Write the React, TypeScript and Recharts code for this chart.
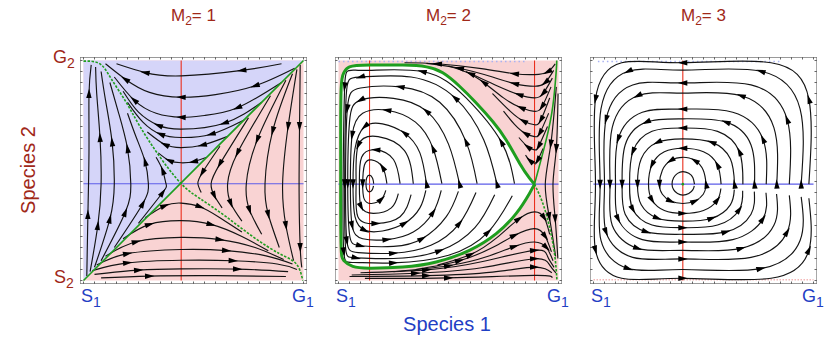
import type { ReactNode } from "react"
import { ComposedChart, Area, Line, XAxis, YAxis, ReferenceArea, ReferenceLine, ReferenceDot } from "recharts"

type Pt = [number, number]

// layout of the three frames
const PANEL_LEFT = [80, 335, 590]
const PANEL_TOP = 57
const SIZE = 227
const INSET = 3.5 / 220
const DOMAIN: [number, number] = [-INSET, 1 + INSET]
const TICKS = [0, 0.05, 0.1, 0.15, 0.2, 0.25, 0.3, 0.35, 0.4, 0.45, 0.5, 0.55, 0.6, 0.65, 0.7, 0.75, 0.8, 0.85, 0.9, 0.95, 1]
const TICK_LEN = 2.5 / 220
const M2_VALUES = [1, 2, 3]

const DARK_RED = "#A02818"
const LABEL_BLUE = "#1F40C4"
const PINK = "#F9D3D3"
const LAVENDER = "#D5D5F9"
const RED = "#EA2E1C"
const NBLUE = "#5C5CE8"
const GREEN = "#1F9E1F"
const FRAME = "#7a7a7a"
const INK = "#141414"

// ---------- M2 = 1 ----------
const P1_NULL_X = 0.444
const P1_NULL_Y = 0.44
const P1_BLUE_X = [0, 1]
const P1_BLUE_LO = [0, 1]
const P1_BLUE_HI = [1, 1]
const P1_DIAG: Pt[] = [[0, 0], [1, 1]]
const P1_SEP: Pt[] = [
  [0.0, 0.997], [0.073, 0.986], [0.126, 0.917], [0.194, 0.81], [0.255, 0.703], [0.345, 0.565],
  [0.444, 0.44], [0.53, 0.372], [0.648, 0.29], [0.77, 0.199], [0.891, 0.122], [0.967, 0.076], [0.997, 0.0],
]
const P1_TOP: Pt[][] = [
  [[0.9, 0.985], [0.72, 0.955], [0.444, 0.93], [0.28, 0.945], [0.15, 0.985]],
  [[0.96, 0.965], [0.78, 0.885], [0.6, 0.845], [0.444, 0.833], [0.3, 0.855], [0.19, 0.915], [0.1, 0.985]],
  [[0.9, 0.9], [0.7, 0.785], [0.55, 0.75], [0.444, 0.742], [0.33, 0.76], [0.23, 0.82], [0.14, 0.925]],
  [[0.81, 0.81], [0.64, 0.715], [0.444, 0.688], [0.34, 0.705], [0.25, 0.765], [0.18, 0.86]],
  [[0.73, 0.73], [0.58, 0.665], [0.444, 0.65], [0.35, 0.665], [0.27, 0.72], [0.2, 0.81]],
  [[0.655, 0.655], [0.54, 0.615], [0.444, 0.604], [0.37, 0.618], [0.29, 0.675]],
  [[0.56, 0.56], [0.5, 0.54], [0.444, 0.535], [0.39, 0.545], [0.34, 0.58]],
]
const P1_LEFT: Pt[][] = [
  [[0.015, 0.02], [0.02, 0.3], [0.025, 0.6], [0.025, 0.85], [0.035, 0.98]],
  [[0.03, 0.04], [0.065, 0.25], [0.08, 0.44], [0.075, 0.65], [0.06, 0.85], [0.055, 0.97]],
  [[0.05, 0.06], [0.12, 0.28], [0.14, 0.44], [0.13, 0.63], [0.1, 0.82], [0.08, 0.95]],
  [[0.08, 0.09], [0.19, 0.31], [0.215, 0.44], [0.2, 0.6], [0.16, 0.76], [0.12, 0.9]],
  [[0.14, 0.15], [0.27, 0.35], [0.295, 0.44], [0.28, 0.54], [0.24, 0.65], [0.2, 0.76]],
  [[0.25, 0.26], [0.36, 0.4], [0.375, 0.44], [0.36, 0.5], [0.33, 0.56]],
]
const P1_RIGHT: Pt[][] = [
  [[0.985, 0.98], [0.982, 0.7], [0.98, 0.4], [0.985, 0.15], [0.992, 0.06]],
  [[0.97, 0.96], [0.93, 0.7], [0.905, 0.44], [0.92, 0.25], [0.955, 0.09]],
  [[0.95, 0.94], [0.86, 0.68], [0.825, 0.44], [0.84, 0.3], [0.89, 0.15]],
  [[0.92, 0.91], [0.79, 0.64], [0.74, 0.44], [0.755, 0.32], [0.81, 0.21]],
  [[0.85, 0.84], [0.7, 0.58], [0.655, 0.44], [0.67, 0.35], [0.72, 0.27]],
  [[0.75, 0.74], [0.62, 0.53], [0.58, 0.44], [0.595, 0.385], [0.63, 0.33]],
  [[0.62, 0.61], [0.54, 0.49], [0.52, 0.44], [0.535, 0.4]],
]
const P1_BOTTOM: Pt[][] = [
  [[0.28, 0.285], [0.37, 0.34], [0.444, 0.352], [0.53, 0.335], [0.62, 0.285], [0.72, 0.22]],
  [[0.18, 0.19], [0.3, 0.255], [0.444, 0.272], [0.58, 0.255], [0.72, 0.2], [0.84, 0.135]],
  [[0.1, 0.11], [0.24, 0.176], [0.444, 0.196], [0.62, 0.186], [0.78, 0.15], [0.91, 0.095]],
  [[0.06, 0.07], [0.2, 0.122], [0.444, 0.141], [0.65, 0.136], [0.83, 0.112], [0.95, 0.075]],
  [[0.04, 0.045], [0.2, 0.08], [0.444, 0.092], [0.68, 0.09], [0.88, 0.075], [0.97, 0.05]],
  [[0.05, 0.028], [0.25, 0.047], [0.444, 0.053], [0.7, 0.052], [0.93, 0.04]],
  [[0.08, 0.012], [0.3, 0.02], [0.6, 0.022], [0.92, 0.018]],
]

// ---------- M2 = 2 ----------
const P2_NULL_X = [0.141, 0.891]
const P2_NULL_Y = 0.438
const P2_LOOP_X = [0.012, 0.024, 0.05, 0.1, 0.141, 0.2, 0.292, 0.4, 0.474, 0.55, 0.626, 0.701, 0.762, 0.823, 0.868, 0.891]
const P2_LOOP_HI = [0.87, 0.944, 0.971, 0.978, 0.979, 0.98, 0.979, 0.971, 0.944, 0.883, 0.807, 0.723, 0.639, 0.533, 0.465, 0.438]
const P2_LOOP_LO = [0.152, 0.091, 0.066, 0.058, 0.056, 0.057, 0.061, 0.075, 0.095, 0.12, 0.156, 0.203, 0.258, 0.328, 0.396, 0.438]
const P2_LOOP: Pt[] = [
  [0.891, 0.438], [0.868, 0.465], [0.823, 0.533], [0.762, 0.639], [0.701, 0.723], [0.626, 0.807], [0.55, 0.883],
  [0.474, 0.944], [0.4, 0.971], [0.292, 0.979], [0.141, 0.979], [0.05, 0.971], [0.024, 0.944], [0.012, 0.87],
  [0.01, 0.6], [0.01, 0.35], [0.012, 0.152], [0.024, 0.091], [0.065, 0.064], [0.141, 0.056], [0.292, 0.061],
  [0.444, 0.084], [0.595, 0.137], [0.717, 0.213], [0.808, 0.305], [0.868, 0.396], [0.891, 0.438],
]
const P2_UP_BRANCH: Pt[] = [[0.891, 0.438], [0.944, 0.639], [0.974, 0.791], [0.989, 0.943], [0.992, 1.0]]
const P2_LOW_BRANCH: Pt[] = [[0.891, 0.438], [0.929, 0.35], [0.959, 0.243], [0.982, 0.122], [0.993, 0.0]]
const P2_CORE: Pt[][] = [
  [[0.16, 0.44], [0.155, 0.465], [0.141, 0.479], [0.128, 0.466], [0.125, 0.44], [0.128, 0.415], [0.141, 0.403], [0.154, 0.413], [0.159, 0.43]],
]
const P2_INNER: Pt[][] = [
  [[0.22, 0.44], [0.2, 0.515], [0.15, 0.548], [0.118, 0.525], [0.11, 0.44], [0.117, 0.37], [0.15, 0.35], [0.195, 0.37], [0.215, 0.41]],
  [[0.28, 0.44], [0.25, 0.55], [0.17, 0.594], [0.105, 0.56], [0.095, 0.44], [0.103, 0.335], [0.16, 0.305], [0.24, 0.33], [0.272, 0.395]],
  [[0.34, 0.44], [0.3, 0.59], [0.18, 0.654], [0.09, 0.615], [0.08, 0.44], [0.088, 0.29], [0.17, 0.259], [0.28, 0.29], [0.33, 0.39]],
]
const P2_OUTER: Pt[][] = [
  [[0.4, 0.44], [0.37, 0.58], [0.3, 0.67], [0.2, 0.712], [0.12, 0.7], [0.075, 0.6], [0.066, 0.44], [0.075, 0.29], [0.12, 0.228], [0.2, 0.225], [0.3, 0.26], [0.37, 0.33], [0.397, 0.41]],
  [[0.47, 0.44], [0.43, 0.6], [0.35, 0.72], [0.22, 0.774], [0.11, 0.76], [0.062, 0.66], [0.054, 0.44], [0.062, 0.25], [0.11, 0.19], [0.22, 0.186], [0.34, 0.22], [0.43, 0.31], [0.467, 0.41]],
  [[0.55, 0.44], [0.5, 0.62], [0.4, 0.77], [0.25, 0.828], [0.1, 0.82], [0.05, 0.72], [0.042, 0.44], [0.05, 0.21], [0.1, 0.158], [0.25, 0.155], [0.38, 0.19], [0.49, 0.29], [0.545, 0.405]],
  [[0.63, 0.44], [0.58, 0.63], [0.46, 0.81], [0.28, 0.88], [0.1, 0.875], [0.04, 0.78], [0.032, 0.44], [0.038, 0.18], [0.09, 0.127], [0.25, 0.124], [0.42, 0.16], [0.55, 0.26], [0.625, 0.4]],
  [[0.72, 0.44], [0.66, 0.64], [0.53, 0.83], [0.33, 0.925], [0.1, 0.925], [0.035, 0.84], [0.028, 0.44], [0.032, 0.15], [0.08, 0.103], [0.25, 0.1], [0.46, 0.135], [0.62, 0.24], [0.71, 0.39]],
  [[0.8, 0.44], [0.74, 0.63], [0.58, 0.83], [0.38, 0.95], [0.1, 0.955], [0.028, 0.88], [0.021, 0.44], [0.024, 0.13], [0.07, 0.082], [0.25, 0.08], [0.5, 0.115], [0.68, 0.22], [0.79, 0.385]],
]
const P2_UPPER: Pt[][] = [
  [[0.985, 0.985], [0.95, 0.948], [0.891, 0.936], [0.8, 0.94], [0.65, 0.963], [0.45, 0.985], [0.3, 0.99]],
  [[0.978, 0.955], [0.94, 0.9], [0.891, 0.883], [0.8, 0.895], [0.7, 0.925], [0.55, 0.965], [0.4, 0.987]],
  [[0.972, 0.92], [0.93, 0.85], [0.891, 0.83], [0.82, 0.845], [0.72, 0.885], [0.6, 0.94], [0.5, 0.975]],
  [[0.966, 0.88], [0.925, 0.79], [0.891, 0.769], [0.83, 0.785], [0.75, 0.83], [0.66, 0.9], [0.58, 0.95]],
  [[0.96, 0.83], [0.92, 0.73], [0.891, 0.708], [0.84, 0.725], [0.78, 0.77], [0.7, 0.85]],
  [[0.955, 0.76], [0.915, 0.67], [0.891, 0.654], [0.85, 0.668], [0.8, 0.71], [0.75, 0.77]],
  [[0.95, 0.7], [0.91, 0.61], [0.891, 0.594], [0.86, 0.608], [0.82, 0.65]],
  [[0.93, 0.6], [0.905, 0.545], [0.891, 0.533], [0.87, 0.545], [0.85, 0.57]],
]
const P2_LOWER: Pt[][] = [
  [[0.45, 0.07], [0.6, 0.118], [0.72, 0.195], [0.82, 0.28], [0.891, 0.312], [0.935, 0.285], [0.96, 0.21]],
  [[0.35, 0.05], [0.55, 0.09], [0.7, 0.15], [0.8, 0.205], [0.891, 0.236], [0.94, 0.2], [0.968, 0.13]],
  [[0.25, 0.04], [0.5, 0.067], [0.68, 0.11], [0.8, 0.155], [0.891, 0.175], [0.945, 0.15], [0.975, 0.09]],
  [[0.1, 0.035], [0.4, 0.048], [0.65, 0.085], [0.891, 0.137], [0.95, 0.11], [0.98, 0.06]],
  [[0.06, 0.025], [0.35, 0.033], [0.65, 0.058], [0.891, 0.099], [0.96, 0.07], [0.988, 0.035]],
  [[0.05, 0.018], [0.4, 0.022], [0.7, 0.038], [0.891, 0.061], [0.97, 0.035]],
  [[0.12, 0.01], [0.5, 0.012], [0.891, 0.023], [0.97, 0.012]],
]
const P2_EDGE: Pt[][] = [
  [[0.99, 0.88], [0.965, 0.62], [0.94, 0.44], [0.958, 0.29], [0.987, 0.11]],
  [[0.998, 0.85], [0.99, 0.6], [0.975, 0.44], [0.985, 0.28], [0.997, 0.1]],
]
const P2_TOP_DOTS: Pt[] = [[0.0, 0.995], [0.85, 0.995]]

// ---------- M2 = 3 ----------
const P3_NULL_X = 0.406
const P3_NULL_Y = 0.438
const P3_CORE: Pt[][] = [
  [[0.459, 0.438], [0.452, 0.467], [0.433, 0.487], [0.406, 0.495], [0.382, 0.487], [0.364, 0.467], [0.357, 0.438], [0.364, 0.413], [0.382, 0.395], [0.406, 0.388], [0.433, 0.395], [0.452, 0.413], [0.458, 0.43]],
]
const P3_ORBITS: Pt[][] = [
  [[0.512, 0.438], [0.499, 0.501], [0.461, 0.545], [0.406, 0.56], [0.351, 0.545], [0.313, 0.501], [0.3, 0.438], [0.313, 0.392], [0.351, 0.361], [0.406, 0.35], [0.461, 0.361], [0.499, 0.392], [0.511, 0.425]],
  [[0.58, 0.438], [0.563, 0.526], [0.5, 0.585], [0.406, 0.601], [0.322, 0.585], [0.266, 0.526], [0.25, 0.438], [0.266, 0.366], [0.322, 0.318], [0.406, 0.305], [0.5, 0.318], [0.563, 0.366], [0.579, 0.418]],
  [[0.641, 0.438], [0.622, 0.553], [0.538, 0.628], [0.406, 0.644], [0.291, 0.628], [0.217, 0.553], [0.2, 0.438], [0.217, 0.344], [0.291, 0.283], [0.406, 0.27], [0.538, 0.283], [0.622, 0.344], [0.64, 0.413]],
  [[0.679, 0.438], [0.663, 0.586], [0.564, 0.678], [0.406, 0.693], [0.266, 0.678], [0.179, 0.586], [0.164, 0.438], [0.179, 0.323], [0.266, 0.252], [0.406, 0.24], [0.564, 0.252], [0.663, 0.323], [0.678, 0.408]],
  [[0.732, 0.438], [0.716, 0.616], [0.602, 0.72], [0.406, 0.735], [0.24, 0.72], [0.144, 0.616], [0.13, 0.438], [0.144, 0.301], [0.24, 0.221], [0.406, 0.21], [0.602, 0.221], [0.716, 0.301], [0.731, 0.404]],
  [[0.785, 0.438], [0.77, 0.643], [0.633, 0.765], [0.406, 0.779], [0.222, 0.765], [0.112, 0.643], [0.1, 0.438], [0.112, 0.28], [0.222, 0.186], [0.406, 0.175], [0.633, 0.186], [0.77, 0.28], [0.784, 0.399]],
  [[0.833, 0.438], [0.82, 0.695], [0.671, 0.84], [0.406, 0.852], [0.201, 0.84], [0.085, 0.695], [0.075, 0.438], [0.085, 0.251], [0.201, 0.146], [0.406, 0.137], [0.671, 0.146], [0.82, 0.251], [0.832, 0.393]],
  [[0.89, 0.438], [0.88, 0.732], [0.716, 0.889], [0.406, 0.898], [0.178, 0.889], [0.057, 0.732], [0.05, 0.438], [0.057, 0.22], [0.178, 0.105], [0.406, 0.098], [0.716, 0.105], [0.88, 0.22], [0.89, 0.387]],
  [[0.944, 0.438], [0.939, 0.78], [0.761, 0.951], [0.406, 0.956], [0.158, 0.951], [0.034, 0.78], [0.03, 0.438], [0.034, 0.182], [0.158, 0.054], [0.406, 0.05], [0.761, 0.054], [0.939, 0.182], [0.944, 0.38]],
  [[0.979, 0.438], [0.979, 0.824], [0.807, 0.99], [0.406, 0.99], [0.128, 0.99], [0.009, 0.824], [0.009, 0.438], [0.009, 0.138], [0.128, 0.01], [0.406, 0.01], [0.807, 0.01], [0.979, 0.138], [0.979, 0.374]],
]
const P3_TOP_DOTS: Pt[] = [[0.02, 0.995], [0.85, 0.995]]
const P3_BOTTOM_DOTS: Pt[] = [[0.0, 0.003], [1.0, 0.003]]

const rows = (pts: Pt[]) => pts.map(([x, y]) => ({ x, y }))

// arrowhead on chosen vertices, pointing along the chord prev -> next
function arrowDot(pts: Pt[], first: number, step: number) {
  return (props: any) => {
    const { cx, cy, index } = props
    const key = `a${index}`
    if (step <= 0 || index < first || (index - first) % step !== 0 || index >= pts.length - 1) return <g key={key} />
    const a = pts[Math.max(index - 1, 0)]
    const b = pts[index + 1]
    const ang = (Math.atan2(-(b[1] - a[1]), b[0] - a[0]) * 180) / Math.PI
    return (
      <polygon key={key} points="5,0 -4.5,2.7 -4.5,-2.7" fill="#000"
        transform={`translate(${cx},${cy}) rotate(${ang})`} />
    )
  }
}

// stagger: shift the first arrow from one line to the next so heads don't stack up
function streams(id: string, lines: Pt[][], first = 1, step = 2, stagger = false) {
  return lines.map((pts, k) => (
    <Line key={`${id}${k}`} data={rows(pts)} dataKey="y" type="natural" stroke={INK} strokeWidth={1.15}
      dot={arrowDot(pts, stagger ? first + (k % step) : first, step)} activeDot={false} isAnimationActive={false} />
  ))
}

function curve(id: string, pts: Pt[], stroke: string, width: number, dash?: string, type: any = "natural") {
  return (
    <Line key={id} data={rows(pts)} dataKey="y" type={type} stroke={stroke} strokeWidth={width}
      strokeDasharray={dash} dot={false} activeDot={false} isAnimationActive={false} />
  )
}

function region(id: string, xs: number[], lo: number[], hi: number[], fill: string, type: any = "linear") {
  return (
    <Area key={id} data={xs.map((x, i) => ({ x, r: [lo[i], hi[i]] }))} dataKey="r" type={type}
      fill={fill} fillOpacity={1} stroke="none" dot={false} activeDot={false} isAnimationActive={false} />
  )
}

const nullV = (id: string, x: number) => (
  <ReferenceLine key={id} segment={[{ x, y: 0 }, { x, y: 1 }]} stroke={RED} strokeWidth={1.1} ifOverflow="visible" />
)
const nullH = (id: string, y: number) => (
  <ReferenceLine key={id} segment={[{ x: 0, y }, { x: 1, y }]} stroke={NBLUE} strokeWidth={1.1} ifOverflow="visible" />
)

// short inward ticks on all four sides of the frame
function frameTicks() {
  const [lo, hi] = DOMAIN
  const seg = (k: string, a: Pt, b: Pt) => (
    <ReferenceLine key={k} segment={[{ x: a[0], y: a[1] }, { x: b[0], y: b[1] }]} stroke="#666" strokeWidth={1} ifOverflow="visible" />
  )
  return TICKS.flatMap((t) => [
    seg(`tb${t}`, [t, lo], [t, lo + TICK_LEN]),
    seg(`tt${t}`, [t, hi], [t, hi - TICK_LEN]),
    seg(`tl${t}`, [lo, t], [lo + TICK_LEN, t]),
    seg(`tr${t}`, [hi, t], [hi - TICK_LEN, t]),
  ])
}

function Panel({ left, children }: { left: number; children: ReactNode }) {
  return (
    <div style={{ position: "absolute", left, top: PANEL_TOP }}>
      <ComposedChart width={SIZE} height={SIZE} margin={{ top: 0, right: 0, bottom: 0, left: 0 }}>
        <XAxis dataKey="x" type="number" domain={DOMAIN} allowDataOverflow hide />
        <YAxis type="number" domain={DOMAIN} allowDataOverflow hide />
        {children}
        {frameTicks()}
        <ReferenceArea x1={DOMAIN[0]} x2={DOMAIN[1]} y1={DOMAIN[0]} y2={DOMAIN[1]} fill="none" fillOpacity={0}
          stroke={FRAME} strokeWidth={1.3} ifOverflow="visible" />
      </ComposedChart>
    </div>
  )
}

export default function App() {
  const font = '"Liberation Sans", Arial, Helvetica, sans-serif'
  return (
    <div style={{ position: "fixed", left: 0, top: 0, width: 830, height: 337, background: "#fff", fontFamily: font }}>
      <Panel left={PANEL_LEFT[0]}>
        {region("p1pink", [0, 1], [0, 0], [1, 1], PINK)}
        {region("p1blue", P1_BLUE_X, P1_BLUE_LO, P1_BLUE_HI, LAVENDER)}
        {nullV("p1nx", P1_NULL_X)}
        {nullH("p1ny", P1_NULL_Y)}
        {streams("p1t", P1_TOP)}
        {streams("p1l", P1_LEFT)}
        {streams("p1r", P1_RIGHT)}
        {streams("p1b", P1_BOTTOM)}
        {curve("p1diag", P1_DIAG, GREEN, 1.6, undefined, "linear")}
        {curve("p1sep", P1_SEP, GREEN, 1.6, "2.5 1.5")}
      </Panel>

      <Panel left={PANEL_LEFT[1]}>
        {region("p2pink", [0, 1], [0, 0], [1, 1], PINK)}
        {region("p2loop", P2_LOOP_X, P2_LOOP_LO, P2_LOOP_HI, "#ffffff", "monotone")}
        {curve("p2dots", P2_TOP_DOTS, "#A9B2F2", 1.5, "1.5 3", "linear")}
        {nullV("p2nx0", P2_NULL_X[0])}
        {nullV("p2nx1", P2_NULL_X[1])}
        {nullH("p2ny", P2_NULL_Y)}
        {streams("p2c", P2_CORE, 0, 0)}
        {streams("p2i", P2_INNER, 1, 3, true)}
        {streams("p2o", P2_OUTER, 0, 2, true)}
        {streams("p2u", P2_UPPER)}
        {streams("p2d", P2_LOWER)}
        {streams("p2e", P2_EDGE)}
        {curve("p2loopline", P2_LOOP, GREEN, 3)}
        {curve("p2up", P2_UP_BRANCH, GREEN, 1.6)}
        {curve("p2low", P2_LOW_BRANCH, GREEN, 1.6, "2.5 1.5")}
      </Panel>

      <Panel left={PANEL_LEFT[2]}>
        {curve("p3top", P3_TOP_DOTS, "#A9B2F2", 1.5, "1.5 3", "linear")}
        {curve("p3bot", P3_BOTTOM_DOTS, "#F4B8B8", 1.5, "1.5 1.5", "linear")}
        {nullV("p3nx", P3_NULL_X)}
        {nullH("p3ny", P3_NULL_Y)}
        {streams("p3c", P3_CORE, 0, 0)}
        {streams("p3o", P3_ORBITS, 0, 2, true)}
        <ReferenceDot x={P3_NULL_X} y={P3_NULL_Y} r={1.3} fill={GREEN} stroke="none" />
      </Panel>

      <svg width={830} height={337} style={{ position: "absolute", left: 0, top: 0, pointerEvents: "none" }} fontFamily={font}>
        {M2_VALUES.map((m, i) => (
          <text key={`t${m}`} x={PANEL_LEFT[i] + SIZE / 2} y={21} textAnchor="middle" fill={DARK_RED} fontSize={17}>
            M<tspan fontSize={12} dy={4}>2</tspan><tspan dy={-4}>= {m}</tspan>
          </text>
        ))}
        <text x={53} y={63} fill={DARK_RED} fontSize={18}>G<tspan fontSize={14} dy={5}>2</tspan></text>
        <text x={54} y={283} fill={DARK_RED} fontSize={18}>S<tspan fontSize={14} dy={5}>2</tspan></text>
        {PANEL_LEFT.map((l) => (
          <g key={`ax${l}`}>
            <text x={l + 1} y={302} fill={LABEL_BLUE} fontSize={18}>S<tspan fontSize={14} dy={5}>1</tspan></text>
            <text x={l + 212} y={302} fill={LABEL_BLUE} fontSize={18}>G<tspan fontSize={14} dy={5}>1</tspan></text>
          </g>
        ))}
        <text x={447} y={331} textAnchor="middle" fill={LABEL_BLUE} fontSize={20}>Species 1</text>
        <text transform="translate(35,170) rotate(-90)" textAnchor="middle" fill={DARK_RED} fontSize={20}>Species 2</text>
      </svg>
    </div>
  )
}
